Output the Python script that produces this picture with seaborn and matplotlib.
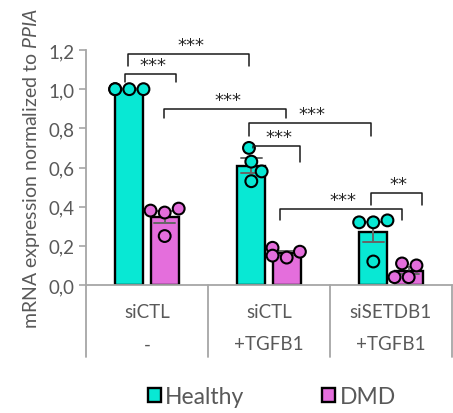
import numpy as np
import pandas as pd
import matplotlib
matplotlib.use("Agg")
import matplotlib.pyplot as plt
import matplotlib.patches as mpatches
import seaborn as sns

# Values (4 replicates per bar)
groups = ["siCTL\n-", "siCTL\n+TGFB1", "siSETDB1\n+TGFB1"]
row1_labels = ["siCTL", "siCTL", "siSETDB1"]
row2_labels = ["-", "+TGFB1", "+TGFB1"]
conditions = ["Healthy", "DMD"]

healthy_sictl = [1.00, 1.00, 1.00, 1.00]
dmd_sictl = [0.39, 0.38, 0.37, 0.25]
healthy_tgfb1 = [0.70, 0.63, 0.58, 0.53]
dmd_tgfb1 = [0.19, 0.17, 0.15, 0.14]
healthy_setdb1 = [0.33, 0.32, 0.32, 0.12]
dmd_setdb1 = [0.11, 0.10, 0.04, 0.04]

# significance brackets: left x, right x, top, left end, right end, label
brackets = [
    (-0.156, 0.836, 1.180, 1.117, 1.117, "***"),
    (-0.180, 0.240, 1.080, 1.036, 1.036, "***"),
    (0.140, 1.140, 0.900, 0.855, 0.855, "***"),
    (0.836, 1.836, 0.827, 0.760, 0.760, "***"),
    (0.870, 1.250, 0.710, 0.700, 0.630, "***"),
    (1.090, 2.090, 0.390, 0.330, 0.330, "***"),
    (1.840, 2.250, 0.470, 0.410, 0.410, "**"),
]

yticks = [0.0, 0.2, 0.4, 0.6, 0.8, 1.0, 1.2]

series = {
    (groups[0], "Healthy"): healthy_sictl,
    (groups[0], "DMD"): dmd_sictl,
    (groups[1], "Healthy"): healthy_tgfb1,
    (groups[1], "DMD"): dmd_tgfb1,
    (groups[2], "Healthy"): healthy_setdb1,
    (groups[2], "DMD"): dmd_setdb1,
}
rows = []
for (g, c), vals in series.items():
    for v in vals:
        rows.append({"group": g, "condition": c, "value": v})
df = pd.DataFrame(rows)

# bar width settings, and matching dodge offset for the dots
bar_width = 0.58
hue_shift = bar_width / 4
df["xpos"] = df["group"].map({g: i for i, g in enumerate(groups)}) + \
    df["condition"].map({"Healthy": -hue_shift, "DMD": hue_shift})

palette = {"Healthy": "#08E8D4", "DMD": "#E46EDC"}
grey = "#595959"

sns.set_style("white")
plt.rcParams["font.family"] = ["Lato", "DejaVu Sans"]
plt.rcParams["mathtext.fontset"] = "custom"
plt.rcParams["mathtext.it"] = "Lato:italic"
plt.rcParams["mathtext.rm"] = "Lato"

fig = plt.figure(figsize=(4.53, 4.14), dpi=100)
ax = fig.add_axes([86 / 453, 1 - 286 / 414, (452 - 86) / 453, (286 - 51) / 414])

sns.barplot(data=df, x="group", y="value", hue="condition", order=groups,
            hue_order=conditions, palette=palette, width=bar_width, gap=0.2,
            errorbar="se", capsize=0.35, err_kws={"color": "#666666", "linewidth": 1.4},
            edgecolor="black", linewidth=1.7, saturation=1, ax=ax, legend=False)
sns.swarmplot(data=df, x="xpos", y="value", hue="condition", native_scale=True,
              hue_order=conditions, palette=palette, orient="v",
              size=8.5, edgecolor="black", linewidth=1.5, ax=ax, legend=False,
              warn_thresh=1)

ax.set_xlim(-0.5, 2.5)
ax.set_ylim(0, 1.2)
ax.set_yticks(yticks)
ax.set_yticklabels([f"{t:.1f}".replace(".", ",") for t in yticks],
                   fontsize=13.5, color=grey)
ax.tick_params(axis="y", length=5, width=1.2, color="#a6a6a6", left=True, pad=3)
ax.set_xticks([])
ax.set_xlabel("")
ax.set_ylabel(r"mRNA expression normalized to $\mathit{PPIA}$", fontsize=14,
              color=grey, labelpad=5)

sns.despine(ax=ax, top=True, right=True)
for s in ["left", "bottom"]:
    ax.spines[s].set_color("#a6a6a6")
    ax.spines[s].set_linewidth(1.3)

# category table under the axis
trans = ax.get_xaxis_transform()
for xs in [-0.5, 0.5, 1.5, 2.5]:
    ax.plot([xs, xs], [0, -0.306], transform=trans, color="#a6a6a6",
            linewidth=1.3, clip_on=False)
for i in range(len(groups)):
    ax.text(i, -0.112, row1_labels[i], transform=trans, ha="center", va="center",
            fontsize=13.5, color=grey)
    ax.text(i, -0.25, row2_labels[i], transform=trans, ha="center", va="center",
            fontsize=13.5, color=grey)

# significance brackets
for x1, x2, top, e1, e2, lab in brackets:
    ax.plot([x1, x1, x2, x2], [e1, top, top, e2], color="#1a1a1a",
            linewidth=1.1, clip_on=False, zorder=5)
    ax.text((x1 + x2) / 2 + 0.02, top + 0.045, lab, ha="center", va="center",
            fontsize=13, family="DejaVu Sans", color="#262626", clip_on=False)

handles = [mpatches.Patch(facecolor=palette[c], edgecolor="black", linewidth=1.7,
                          label=c) for c in conditions]
fig.legend(handles=handles, loc="center", bbox_to_anchor=(0.6, 0.04), ncol=2,
           frameon=False, fontsize=16.5, handlelength=0.55, handleheight=0.55,
           handletextpad=0.2, columnspacing=3.4, labelcolor=grey)

fig.savefig("out.png", dpi=100)
